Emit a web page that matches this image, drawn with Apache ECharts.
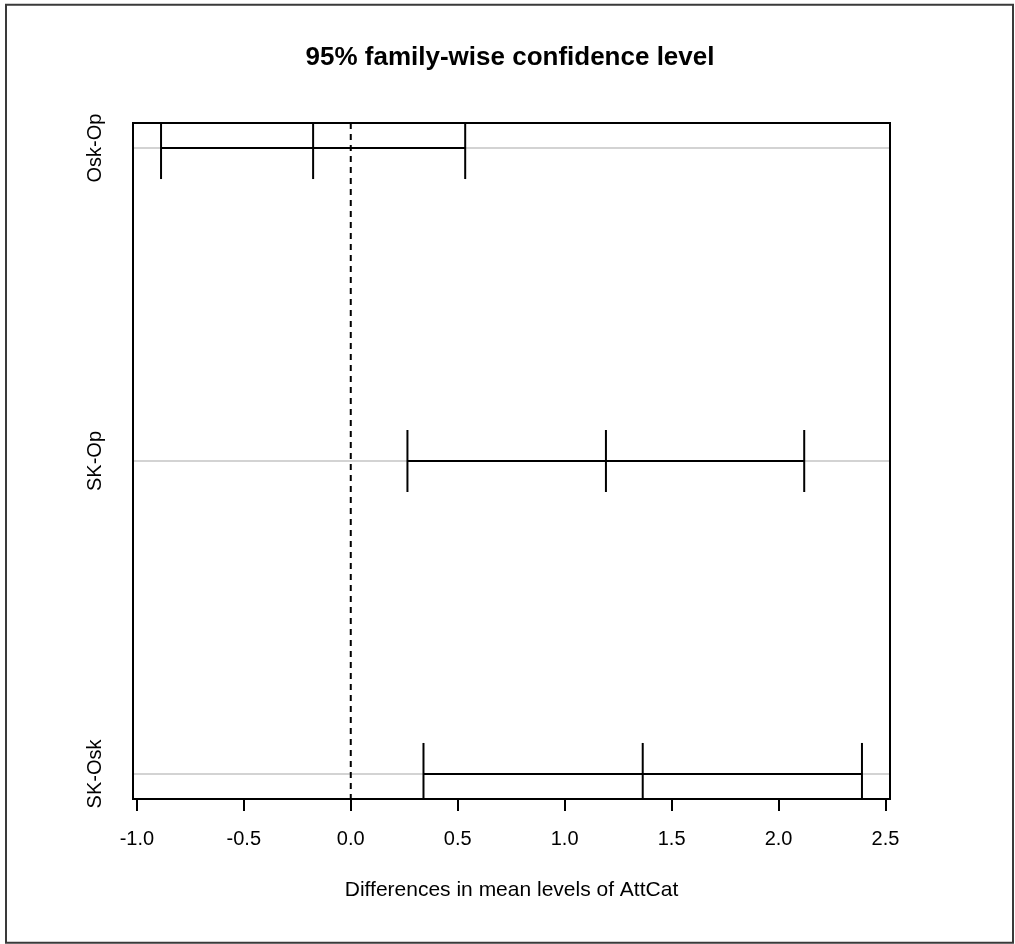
<!DOCTYPE html>
<html>
<head>
<meta charset="utf-8">
<script src="https://cdn.jsdelivr.net/npm/echarts@6/dist/echarts.min.js"></script>
<style>
html,body{margin:0;padding:0;background:#fff;}
#chart{width:1015px;height:944px;}
</style>
</head>
<body>
<div id="chart"></div>
<script>
// ---- data ----
var comparisons = ["Osk-Op", "SK-Op", "SK-Osk"];
var diffValues  = [-0.176, 1.193, 1.365];
var lowerValues = [-0.887, 0.265, 0.340];
var upperValues = [0.535, 2.120, 2.390];
var xTickValues = [-1.0, -0.5, 0.0, 0.5, 1.0, 1.5, 2.0, 2.5];
var titleText = "95% family-wise confidence level";
var xAxisTitle = "Differences in mean levels of AttCat";

// ---- derived ----
var n = comparisons.length;
var yPos = comparisons.map(function (c, i) { return n - i; });
var lo = Math.min.apply(null, lowerValues), hi = Math.max.apply(null, upperValues);
var pad = 0.04 * (hi - lo);
var xMin = lo - pad, xMax = hi + pad;
var yPad = 0.04 * (n - 1);
var yMin = 1 - yPad, yMax = n + yPad;

var barData = comparisons.map(function (c, i) {
  return [lowerValues[i], diffValues[i], upperValues[i], yPos[i]];
});
var rowData = yPos.map(function (y) { return [y]; });

var FONT = "'Liberation Sans', Arial, sans-serif";
var chart = echarts.init(document.getElementById('chart'), null, {renderer: 'canvas'});

function clampY(v, cs) { return Math.max(cs.y, Math.min(cs.y + cs.height, v)); }

chart.setOption({
  animation: false,
  backgroundColor: '#ffffff',
  title: {
    text: titleText,
    left: 510, top: 45, padding: 0, textAlign: 'center',
    textStyle: {fontFamily: FONT, fontSize: 26, fontWeight: 'bold', color: '#000'}
  },
  graphic: [{
    type: 'rect', silent: true, z: 100,
    shape: {x: 6, y: 4.7, width: 1007, height: 938},
    style: {fill: 'none', stroke: '#3a3a3a', lineWidth: 2}
  }],
  grid: {
    left: 133, top: 123, width: 757, height: 676,
    show: true, borderColor: '#000', borderWidth: 2, backgroundColor: 'transparent', z: 10
  },
  xAxis: {
    type: 'value', min: xMin, max: xMax,
    axisLine: {show: false},
    splitLine: {show: false},
    axisTick: {show: true, customValues: xTickValues, length: 12, lineStyle: {color: '#000', width: 2}},
    axisLabel: {
      customValues: xTickValues, margin: 30,
      formatter: function (v) { return v.toFixed(1); },
      fontFamily: FONT, fontSize: 20, color: '#000'
    },
    name: xAxisTitle, nameLocation: 'middle', nameGap: 81,
    nameTextStyle: {fontFamily: FONT, fontSize: 21, color: '#000'}
  },
  yAxis: {
    type: 'value', min: yMin, max: yMax,
    axisLine: {show: false},
    splitLine: {show: false},
    axisTick: {show: true, customValues: yPos, length: 12, lineStyle: {color: '#000', width: 2}},
    axisLabel: {
      customValues: yPos, rotate: 90, margin: 28,
      formatter: function (v) { var i = n - Math.round(v); return comparisons[i] || ''; },
      fontFamily: FONT, fontSize: 20, color: '#000'
    }
  },
  series: [
    {
      type: 'custom', name: 'rows', z: 1, silent: true,
      data: rowData,
      renderItem: function (params, api) {
        var cs = params.coordSys;
        var p = api.coord([xMin, api.value(0)]);
        return {type: 'line', shape: {x1: cs.x, y1: p[1], x2: cs.x + cs.width, y2: p[1]},
                style: {stroke: '#d3d3d3', lineWidth: 2}};
      }
    },
    {
      type: 'custom', name: 'intervals', z: 3, silent: true,
      data: barData,
      renderItem: function (params, api) {
        var cs = params.coordSys;
        var y = api.value(3);
        var pL = api.coord([api.value(0), y]);
        var pM = api.coord([api.value(1), y]);
        var pU = api.coord([api.value(2), y]);
        var h = 31;
        var st = {stroke: '#000', lineWidth: 2};
        function vt(p) {
          return {type: 'line', shape: {x1: p[0], y1: clampY(p[1] - h, cs), x2: p[0], y2: clampY(p[1] + h, cs)}, style: st};
        }
        return {type: 'group', children: [
          {type: 'line', shape: {x1: pL[0], y1: pL[1], x2: pU[0], y2: pU[1]}, style: st},
          vt(pL), vt(pM), vt(pU)
        ]};
      }
    },
    {
      type: 'custom', name: 'zero', z: 4, silent: true,
      data: [[0]],
      renderItem: function (params, api) {
        var cs = params.coordSys;
        var p = api.coord([api.value(0), yMin]);
        return {type: 'line', shape: {x1: p[0], y1: cs.y, x2: p[0], y2: cs.y + cs.height},
                style: {stroke: '#000', lineWidth: 2, lineDash: [6, 5]}};
      }
    }
  ]
});
</script>
</body>
</html>
